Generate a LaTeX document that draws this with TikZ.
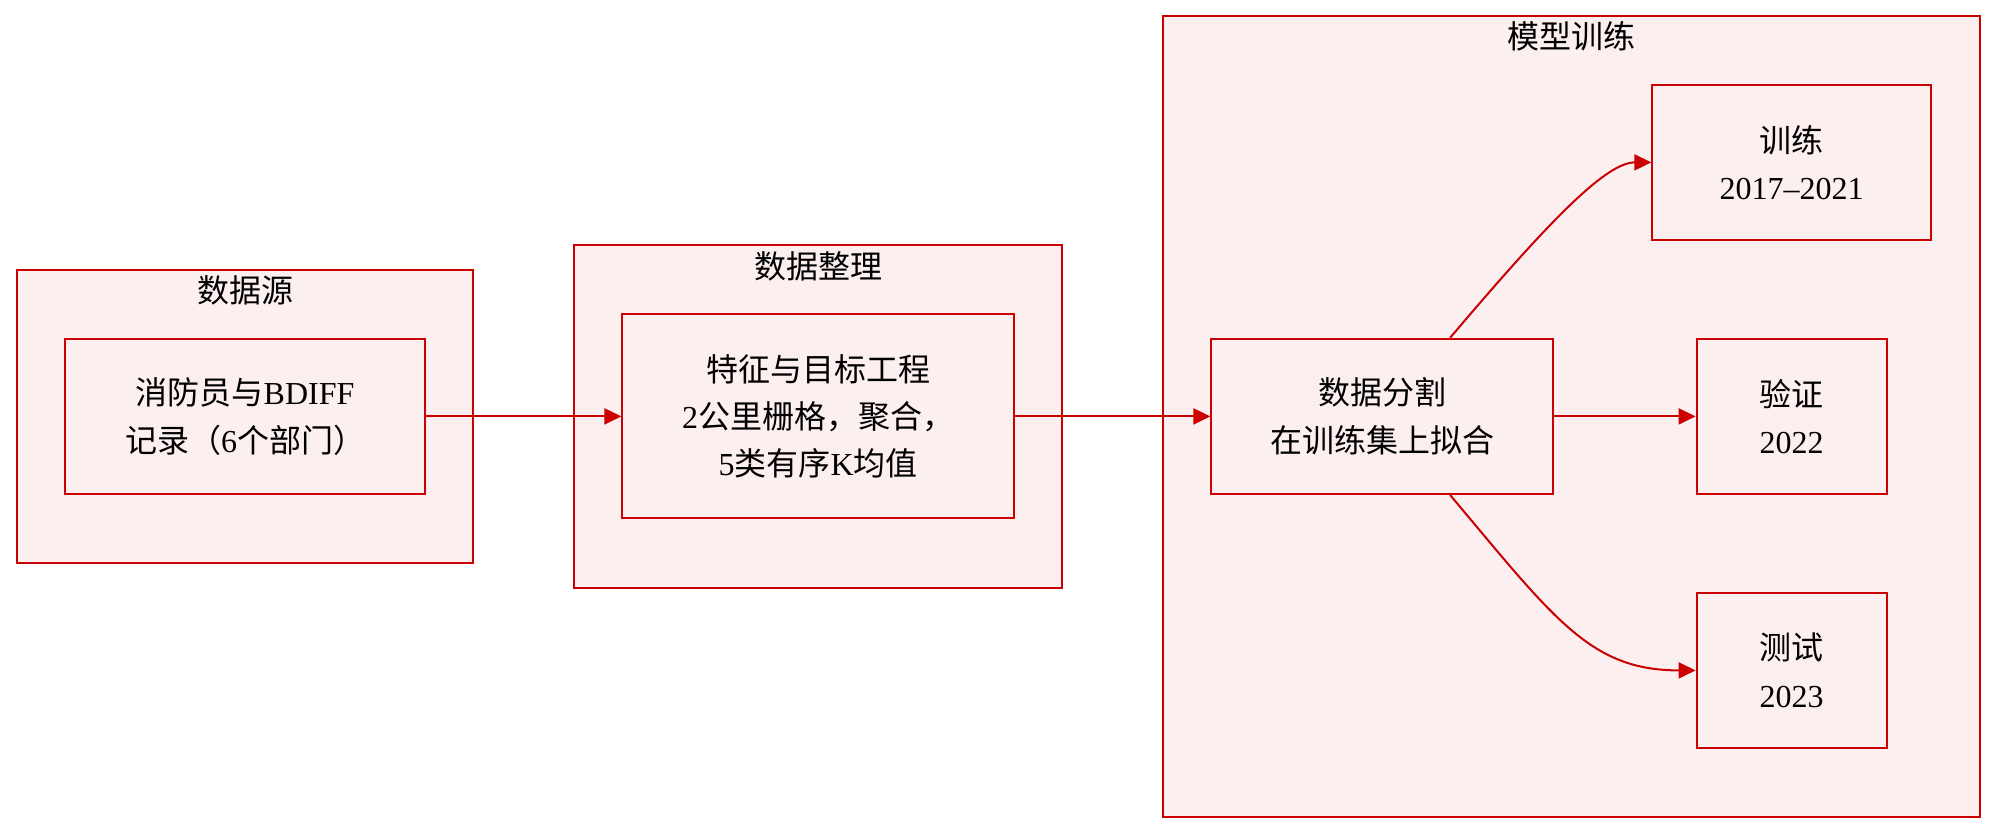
\documentclass[tikz,border=0pt]{standalone}
\usepackage{fontspec}
\setmainfont{Liberation Serif}
\newfontfamily\cjk{Noto Sans CJK SC}
\usepackage{tikz}
\usetikzlibrary{arrows.meta,positioning,fit,backgrounds}
\definecolor{edgered}{RGB}{204,0,0}
\definecolor{clusterpink}{RGB}{252,239,240}
\newcommand{\zhtext}[1]{{\cjk #1}}

\begin{document}
\begin{tikzpicture}[x=0.5pt,y=-0.5pt,>={Triangle[length=8.5pt,width=8pt]},
    node distance=48.4pt and 97.8pt,
    stage/.style={draw=edgered,fill=clusterpink,line width=1pt,align=center,
      inner sep=0pt,minimum height=77.6pt,font=\fontsize{16}{23.7}\selectfont},
    cluster/.style={draw=edgered,fill=clusterpink,line width=1pt,
      inner xsep=23.8pt,inner ysep=34.1pt},
    ctitle/.style={font=\fontsize{16}{20}\selectfont},
    flow/.style={->,draw=edgered,line width=1pt}]
  \useasboundingbox (0,0) rectangle (2012,840);
  % stages
  \node[stage,minimum width=179.7pt] (records) at (245.1,416.4)
    {\zhtext{消防员与}BDIFF\\\zhtext{记录（}6\zhtext{个部门）}};
  \node[stage,minimum width=195.7pt,minimum height=102pt,right=of records] (features)
    {\zhtext{特征与目标工程}\\2\zhtext{公里栅格，聚合，}\\5\zhtext{类有序}K\zhtext{均值}};
  \node[stage,minimum width=170.7pt,right=of features] (split)
    {\zhtext{数据分割}\\\zhtext{在训练集上拟合}};
  \node[stage,minimum width=95pt,right=70.9pt of split] (valid) {\zhtext{验证}\\2022};
  \node[stage,minimum width=139.3pt,above=of valid] (train) {\zhtext{训练}\\2017--2021};
  \node[stage,minimum width=95pt,below=of valid] (test) {\zhtext{测试}\\2023};
  % clusters
  \begin{scope}[on background layer]
    \node[cluster,fit=(records)] (source) {};
    \node[cluster,fit=(features)] (prep) {};
    \node[cluster,fit=(split) (train) (test)] (model) {};
  \end{scope}
  \node[ctitle] (sourcetitle) at ([yshift=-11pt]source.north) {\zhtext{数据源}};
  \node[ctitle] (preptitle) at ([yshift=-11pt]prep.north) {\zhtext{数据整理}};
  \node[ctitle] (modeltitle) at ([yshift=-11pt]model.north) {\zhtext{模型训练}};
  % edges
  \draw[flow] (records) -- (features);
  \draw[flow] (features) -- (split);
  \draw[flow] (split) -- (valid);
  \draw[flow] ([xshift=34pt]split.north) .. controls +(100,-118) and +(-45,0) .. (train.west);
  \draw[flow] ([xshift=34pt]split.south) .. controls +(105,125) and +(-105,0) .. (test.west);
\end{tikzpicture}
\end{document}
